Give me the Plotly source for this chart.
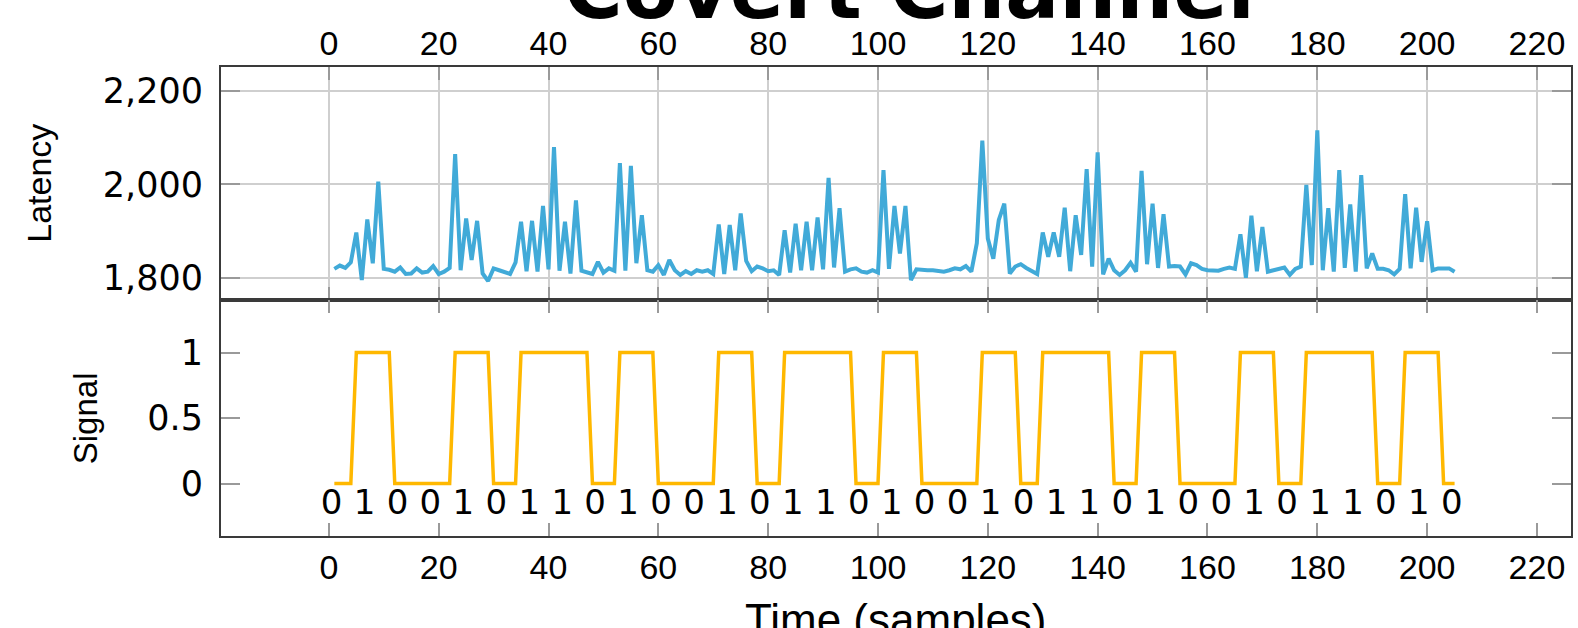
import plotly.graph_objects as go

# ---------------- data ----------------
latency = [
    1819, 1826, 1821, 1833, 1897, 1795, 1925, 1831, 2006, 1819,
    1817, 1813, 1822, 1808, 1809, 1820, 1811, 1813, 1825, 1808,
    1813, 1821, 2065, 1816, 1927, 1838, 1922, 1809, 1793, 1820,
    1816, 1813, 1808, 1833, 1920, 1814, 1922, 1813, 1954, 1818,
    2080, 1815, 1920, 1809, 1966, 1815, 1811, 1808, 1834, 1811,
    1820, 1815, 2046, 1815, 2040, 1831, 1934, 1816, 1813, 1827,
    1806, 1838, 1816, 1806, 1814, 1808, 1816, 1813, 1816, 1808,
    1914, 1808, 1913, 1816, 1938, 1836, 1814, 1824, 1820, 1814,
    1816, 1806, 1902, 1811, 1916, 1816, 1920, 1816, 1929, 1818,
    2014, 1822, 1949, 1813, 1818, 1820, 1813, 1811, 1816, 1811,
    2031, 1819, 1954, 1852, 1954, 1795, 1818, 1816, 1816, 1816,
    1814, 1813, 1816, 1820, 1818, 1825, 1813, 1874, 2094, 1884,
    1841, 1924, 1959, 1809, 1824, 1829, 1821, 1815, 1808, 1897,
    1845, 1897, 1845, 1950, 1814, 1934, 1849, 2033, 1824, 2069,
    1807, 1841, 1816, 1806, 1816, 1832, 1813, 2029, 1829, 1959,
    1821, 1936, 1824, 1825, 1824, 1807, 1831, 1827, 1819, 1816,
    1816, 1815, 1819, 1822, 1819, 1893, 1800, 1933, 1814, 1909,
    1813, 1816, 1820, 1822, 1806, 1819, 1824, 1999, 1827, 2116,
    1816, 1949, 1813, 2031, 1821, 1957, 1813, 2020, 1820, 1852,
    1819, 1819, 1816, 1807, 1819, 1979, 1820, 1950, 1834, 1921,
    1816, 1820, 1820, 1820, 1813,
]

signal = [
    0, 0, 0, 0,
    1, 1, 1, 1, 1, 1, 1,
    0, 0, 0, 0, 0, 0, 0, 0, 0, 0, 0,
    1, 1, 1, 1, 1, 1, 1,
    0, 0, 0, 0, 0,
    1, 1, 1, 1, 1, 1, 1, 1, 1, 1, 1, 1, 1,
    0, 0, 0, 0, 0,
    1, 1, 1, 1, 1, 1, 1,
    0, 0, 0, 0, 0, 0, 0, 0, 0, 0, 0,
    1, 1, 1, 1, 1, 1, 1,
    0, 0, 0, 0, 0,
    1, 1, 1, 1, 1, 1, 1, 1, 1, 1, 1, 1, 1,
    0, 0, 0, 0, 0,
    1, 1, 1, 1, 1, 1, 1,
    0, 0, 0, 0, 0, 0, 0, 0, 0, 0, 0,
    1, 1, 1, 1, 1, 1, 1,
    0, 0, 0, 0,
    1, 1, 1, 1, 1, 1, 1, 1, 1, 1, 1, 1, 1,
    0, 0, 0, 0, 0,
    1, 1, 1, 1, 1, 1, 1,
    0, 0, 0, 0, 0, 0, 0, 0, 0, 0, 0,
    1, 1, 1, 1, 1, 1, 1,
    0, 0, 0, 0, 0,
    1, 1, 1, 1, 1, 1, 1, 1, 1, 1, 1, 1, 1,
    0, 0, 0, 0, 0,
    1, 1, 1, 1, 1, 1, 1,
    0, 0, 0,
]

samples = list(range(1, len(latency) + 1))

bits = [0, 1, 0, 0, 1, 0, 1, 1,
        0, 1, 0, 0, 1, 0, 1, 1,
        0, 1, 0, 0, 1, 0, 1, 1,
        0, 1, 0, 0, 1, 0, 1, 1,
        0, 1, 0]
bit_len = 6  # samples per bit
bit_x = [bit_len * i + 0.5 for i in range(len(bits))]

x_ticks = list(range(0, 221, 20))
lat_ticks = [1800, 2000, 2200]
sig_ticks = [0, 0.5, 1]

# ---------------- style ----------------
BLUE = "#41aad8"
ORANGE = "#ffb800"
FRAME = "#3a3a3a"
GRID = "#cfcfcf"
TICK = "#9a9a9a"
XTICKFONT = dict(family="Liberation Sans, Arial, sans-serif", size=34, color="black")
YTICKFONT = dict(family="DejaVu Sans, sans-serif", size=35, color="black")

X_RANGE = [-19.64, 226.2]
SPLIT = 0.503

fig = go.Figure()
fig.add_trace(go.Scatter(x=samples, y=latency, mode="lines",
                         line=dict(color=BLUE, width=4),
                         xaxis="x", yaxis="y", hoverinfo="skip"))
fig.add_trace(go.Scatter(x=samples, y=signal, mode="lines",
                         line=dict(color=ORANGE, width=3.5),
                         xaxis="x2", yaxis="y2", hoverinfo="skip"))
fig.add_trace(go.Scatter(x=bit_x, y=[-0.165] * len(bits), mode="text",
                         text=[str(b) for b in bits], textposition="middle center",
                         textfont=dict(family="DejaVu Sans", size=34, color="black"),
                         xaxis="x2", yaxis="y2", hoverinfo="skip"))

common_axis = dict(showline=True, linecolor=FRAME, linewidth=2, mirror="allticks",
                   ticks="inside", tickcolor=TICK, tickwidth=2, zeroline=False)

fig.update_layout(
    width=1578, height=628,
    margin=dict(l=221, r=5, t=67, b=92),
    paper_bgcolor="white", plot_bgcolor="white",
    showlegend=False,
    xaxis=dict(domain=[0, 1], anchor="y", side="top", range=X_RANGE,
               tickvals=x_ticks, showgrid=True, gridcolor=GRID, gridwidth=1.5,
               ticklen=13, ticklabelstandoff=-4, tickfont=XTICKFONT, **common_axis),
    yaxis=dict(domain=[SPLIT, 1], anchor="x", range=[1752, 2252],
               tickvals=lat_ticks, tickformat=",d", showgrid=True,
               gridcolor=GRID, gridwidth=1.5, ticklen=19, ticklabelstandoff=9,
               tickfont=YTICKFONT, **common_axis),
    xaxis2=dict(domain=[0, 1], anchor="y2", side="bottom", range=X_RANGE,
                tickvals=x_ticks, showgrid=False, ticklen=13,
                ticklabelstandoff=0, tickfont=XTICKFONT, **common_axis),
    yaxis2=dict(domain=[0, SPLIT], anchor="x2", range=[-0.4, 1.4],
                tickvals=sig_ticks, showgrid=False, ticklen=19,
                ticklabelstandoff=9, tickfont=YTICKFONT, **common_axis),
    annotations=[
        dict(text="Covert Channel", xref="paper", yref="paper", x=0.51, y=1.164,
             xanchor="center", yanchor="middle", showarrow=False,
             font=dict(family="DejaVu Sans", size=80, color="black", weight="bold")),
        dict(text="Latency", xref="paper", yref="paper", x=-0.1354,
             y=(SPLIT + 1) / 2, xanchor="center", yanchor="middle",
             textangle=-90, showarrow=False,
             font=dict(family="Liberation Sans, Arial, sans-serif", size=34, color="black")),
        dict(text="Signal", xref="paper", yref="paper", x=-0.1006,
             y=SPLIT / 2, xanchor="center", yanchor="middle",
             textangle=-90, showarrow=False,
             font=dict(family="Liberation Sans, Arial, sans-serif", size=33, color="black")),
        dict(text="Time (samples)", xref="paper", yref="paper", x=0.5, y=-0.179,
             xanchor="center", yanchor="middle", showarrow=False,
             font=dict(family="Liberation Sans, Arial, sans-serif", size=44, color="black")),
    ],
)

fig.write_html("out.html")
